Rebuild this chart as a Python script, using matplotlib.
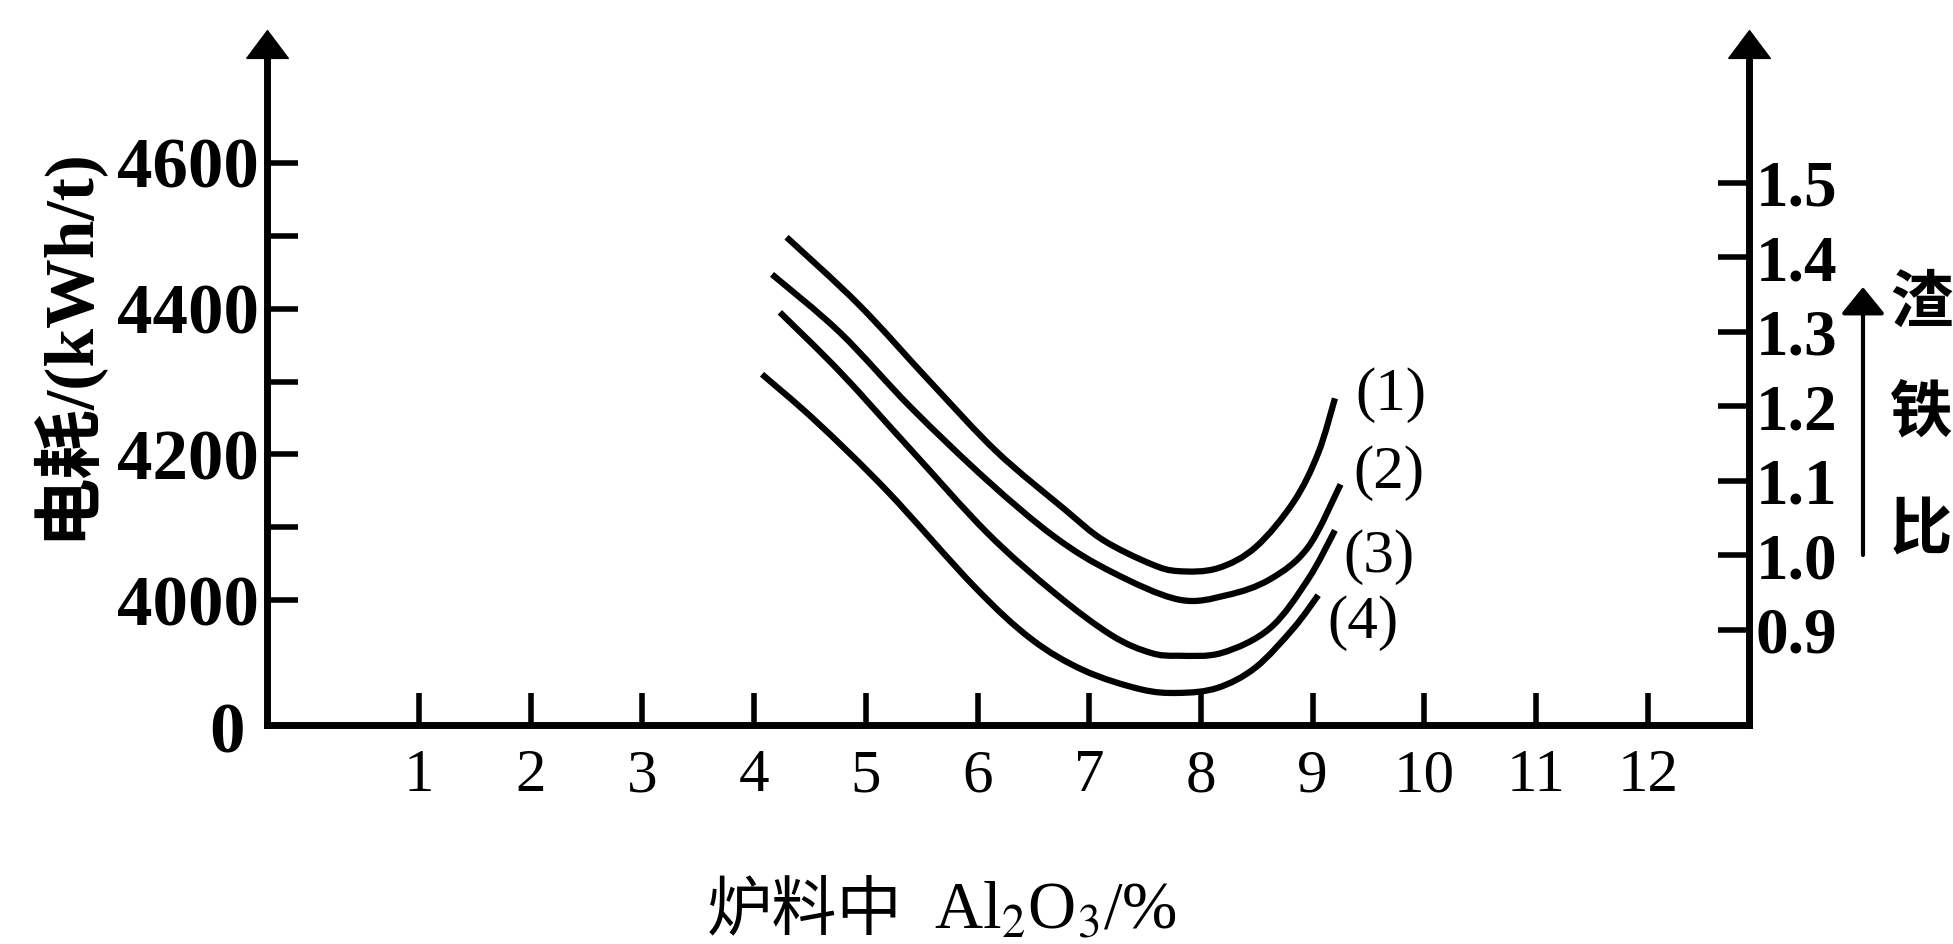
import numpy as np
import matplotlib
matplotlib.use('Agg')
import matplotlib.pyplot as plt
from matplotlib.path import Path
from matplotlib.patches import PathPatch

plt.rcParams['font.family'] = ['Liberation Serif', 'Noto Sans CJK SC']
plt.rcParams['mathtext.fontset'] = 'stix'

# Al2O3 in burden (%) and power consumption (kWh/t) for curves (1)-(4)
al2o3_1 = [4.29, 4.94, 5.58, 6.17, 6.77, 7.12, 7.55, 7.80, 8.15, 8.49, 8.83, 9.05, 9.20]
power_1 = [4498, 4405, 4299, 4204, 4126, 4083, 4050, 4040, 4044, 4073, 4135, 4202, 4277]

al2o3_2 = [4.16, 4.77, 5.40, 6.09, 6.69, 7.20, 7.80, 8.23, 8.62, 8.96, 9.25]
power_2 = [4447, 4367, 4265, 4164, 4087, 4039, 4001, 4007, 4029, 4073, 4159]

al2o3_3 = [4.23, 4.77, 5.40, 6.09, 6.69, 7.20, 7.55, 7.80, 8.19, 8.62, 8.96, 9.20]
power_3 = [4395, 4313, 4207, 4092, 4010, 3952, 3928, 3924, 3928, 3962, 4029, 4096]

al2o3_4 = [4.07, 4.55, 5.19, 5.97, 6.48, 6.95, 7.46, 7.80, 8.15, 8.49, 8.83, 9.05]
power_4 = [4310, 4246, 4150, 4019, 3947, 3904, 3878, 3873, 3880, 3908, 3962, 4007]

curve_names = ['(1)', '(2)', '(3)', '(4)']

x_ticks = list(range(1, 13))
x_ticklabels = [str(v) for v in x_ticks]
power_ticks = [4000, 4200, 4400, 4600]
power_minor = [4100, 4300, 4500]
ratio_ticks = [0.9, 1.0, 1.1, 1.2, 1.3, 1.4, 1.5]
ratio_ticklabels = ['0.9', '1.0', '1.1', '1.2', '1.3', '1.4', '1.5']


def smooth_path(xs, ys):
    # Catmull-Rom through the read points, drawn as cubic Bezier segments
    p = np.column_stack([xs, ys]).astype(float)
    n = len(p)
    verts = [p[0]]
    codes = [Path.MOVETO]
    for i in range(n - 1):
        p0 = p[i - 1] if i > 0 else p[i]
        p1 = p[i]
        p2 = p[i + 1]
        p3 = p[i + 2] if i + 2 < n else p[i + 1]
        verts += [p1 + (p2 - p0) / 6.0, p2 - (p3 - p1) / 6.0, p2]
        codes += [Path.CURVE4] * 3
    return Path(verts, codes)


fig = plt.figure(figsize=(19.53, 9.44), dpi=100)
ax = fig.add_axes([0.1367, 0.2320, 0.7588, 0.7214])
ax2 = ax.twinx()

ax.set_xlim(-0.362, 12.906)
ax.set_ylim(3829, 4763)
ax2.set_ylim(0.7726, 1.6858)

lw_axis = 5
for s in ['top', 'right']:
    ax.spines[s].set_visible(False)
for s in ['top', 'left', 'bottom']:
    ax2.spines[s].set_visible(False)
ax.spines['left'].set_linewidth(lw_axis)
ax.spines['bottom'].set_linewidth(lw_axis)
ax2.spines['right'].set_linewidth(lw_axis)

# curves
series = [(al2o3_1, power_1), (al2o3_2, power_2), (al2o3_3, power_3), (al2o3_4, power_4)]
label_offsets = [(40, 2), (35, 8), (32, -19), (32, -20)]
for (xs, ys), name, off in zip(series, curve_names, label_offsets):
    ax.add_patch(PathPatch(smooth_path(xs, ys), fill=False, edgecolor='black',
                           lw=4.5, capstyle='butt', joinstyle='round'))
    ax.annotate(name, xy=(xs[-1], ys[-1]), xytext=off, textcoords='offset points',
                ha='center', va='center', fontsize=44)

# ticks
ax.set_xticks(x_ticks)
ax.set_xticklabels(x_ticklabels)
ax.tick_params(axis='x', direction='in', length=23, width=4, pad=17, labelsize=44)

ax.set_yticks(power_ticks)
ax.set_yticklabels([str(v) for v in power_ticks], fontweight='bold')
ax.set_yticks(power_minor, minor=True)
ax.tick_params(axis='y', which='both', direction='in', length=22, width=4, pad=6, labelsize=51)

ax2.set_yticks(ratio_ticks)
ax2.set_yticklabels(ratio_ticklabels, fontweight='bold')
ax2.tick_params(axis='y', direction='in', length=22, width=4, pad=5, labelsize=47)

# origin label
ax.annotate('0', xy=(0, 0), xycoords='axes fraction', xytext=(-29, -7),
            textcoords='offset points', ha='center', va='center',
            fontsize=51, fontweight='bold')

# arrowheads on the two vertical axes
head = [(-1, -0.667), (1, -0.667), (0, 0.667), (-1, -0.667)]
ax.plot([0], [1], marker=head, ms=30, color='black', transform=ax.transAxes, clip_on=False)
ax2.plot([1], [1], marker=head, ms=30, color='black', transform=ax2.transAxes, clip_on=False)

# axis titles
W, H = 1953.0, 944.0
fig.text(64 / W, 1 - 343 / H, '电耗/(kWh/t)', rotation=90, ha='center', va='center',
         fontsize=50, fontweight='bold')
fig.text(707 / W, 1 - 929 / H, '炉料中', ha='left', va='baseline', fontsize=47,
         family='Noto Sans CJK SC')
fig.text(934 / W, 1 - 929 / H, 'Al$_2$O$_3$/%', ha='left', va='baseline', fontsize=48,
         family='Liberation Serif')

for ch, yc in zip('渣铁比', [303, 413, 531]):
    fig.text(1921 / W, 1 - yc / H, ch, ha='center', va='center', fontsize=45,
             fontweight='bold', family='Noto Sans CJK SC')

ax2.annotate('', xy=(1863 / W, 1 - 287 / H), xycoords='figure fraction',
             xytext=(1863 / W, 1 - 555 / H), textcoords='figure fraction',
             arrowprops=dict(arrowstyle='-|>,head_length=1.66,head_width=1.35',
                             lw=3, color='black', shrinkA=0, shrinkB=0,
                             mutation_scale=10))

fig.savefig('out.png', dpi=100, facecolor='white')
